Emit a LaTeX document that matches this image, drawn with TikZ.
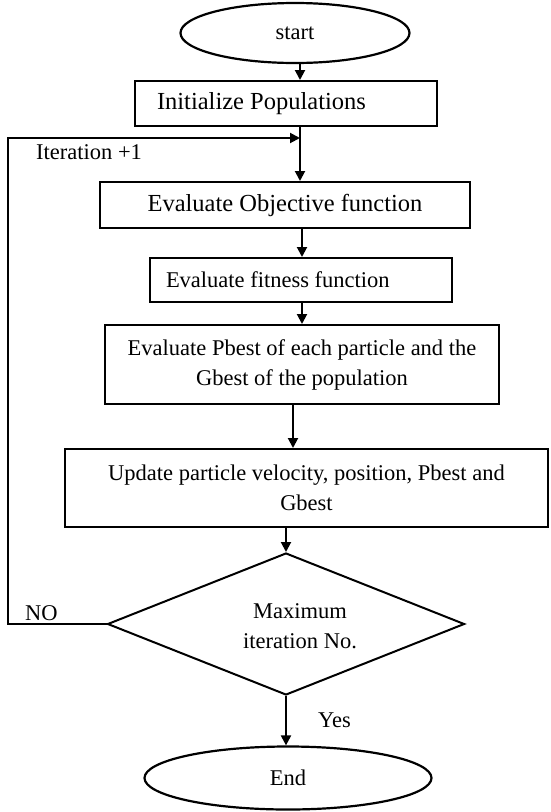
\documentclass[tikz,border=0pt]{standalone}
\usepackage{fontspec}
\setmainfont{Liberation Serif}
\usetikzlibrary{shapes.geometric,arrows.meta}
\begin{document}
\begin{tikzpicture}[x=1pt,y=-1pt,
  every node/.style={font=\fontsize{22.5}{30}\selectfont},
  line/.style={line width=2pt},
  arr/.style={line width=2pt,-{Triangle[length=10pt,width=10pt]}},
  boxn/.style={draw,line width=2pt,rectangle,inner sep=0pt,align=center},
  term/.style={draw,line width=2.2pt,ellipse,inner sep=0pt},
  lbl/.style={anchor=west,inner sep=0pt}]
\useasboundingbox (0,0) rectangle (550,812);
\node[term,minimum width=229pt,minimum height=60pt] (start) at (295,33) {start};
\node[boxn,minimum width=302pt,minimum height=45pt,text width=258pt,align=flush left,
  font=\fontsize{24.5}{30}\selectfont] (init) at (286,103.5) {Initialize Populations};
\node[boxn,minimum width=370pt,minimum height=46pt,
  font=\fontsize{24.5}{30}\selectfont] (obj) at (285,205) {Evaluate Objective function};
\node[boxn,minimum width=302pt,minimum height=44pt,text width=270pt,align=flush left] (fit) at (301,280) {Evaluate fitness function};
\node[boxn,minimum width=394pt,minimum height=79pt] (pb) at (302,364.5) {Evaluate Pbest of each particle and the\\Gbest of the population};
\node[boxn,minimum width=483pt,minimum height=78pt] (upd) at (306.5,488) {Update particle velocity, position, Pbest and\\Gbest};
\node[draw,line width=2pt,diamond,inner sep=0pt,minimum width=357pt,minimum height=142pt] (dec) at (286,624) {};
\node[align=center,inner sep=0pt] (dtxt) at (300,626) {Maximum\\iteration No.};
\node[term,minimum width=287pt,minimum height=63pt] (endn) at (288,778) {End};
\coordinate (j) at (300,138);
\coordinate (lx) at (8,138);
\node[lbl] (itl) at (36,152) {Iteration +1};
\node[lbl] (nol) at (25,613) {NO};
\node[lbl] (yesl) at (318,720) {Yes};
\draw[arr] ([xshift=5pt]start.south) -- ([xshift=14pt]init.north);
\draw[arr] ([xshift=14pt]init.south) -- ([xshift=15pt]obj.north);
\draw[arr] ([xshift=17pt]obj.south) -- ([xshift=1pt]fit.north);
\draw[arr] ([xshift=1pt]fit.south) -- (pb.north);
\draw[arr] ([xshift=-9pt]pb.south) -- ([xshift=-13.5pt]upd.north);
\draw[arr] ([xshift=-20.5pt]upd.south) -- (dec.north);
\draw[arr] (dec.south) -- (dec.south |- endn.north);
\draw[arr] (dec.west) -| (lx) -- (j);
\end{tikzpicture}
\end{document}
